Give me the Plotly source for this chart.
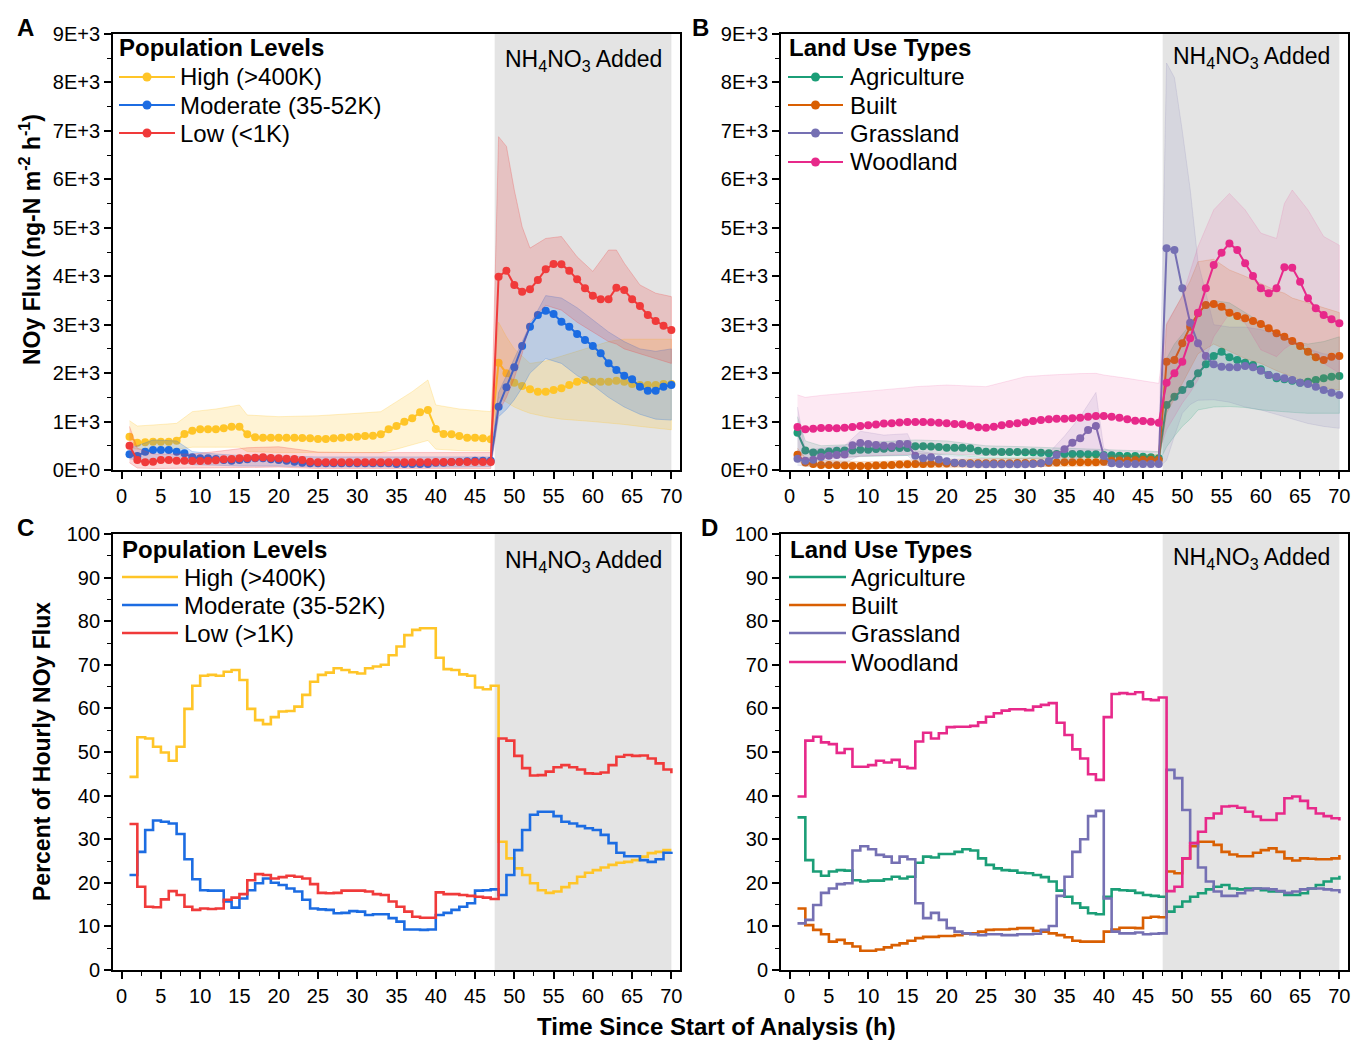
import plotly.graph_objects as go

# ---------------- data ----------------
hours = list(range(1, 71))

# Panel A: NOy flux by population level (ng-N m-2 h-1)
high_flux = [688, 564, 571, 585, 585, 585, 605, 743, 812, 839,
             839, 839, 860, 894, 894, 736, 674, 667, 667, 667,
             667, 667, 660, 654, 640, 640, 654, 667, 674, 688,
             702, 709, 736, 839, 908, 998, 1066, 1190, 1238, 846,
             743, 736, 702, 667, 667, 654, 633,
             2215, 1995, 1803, 1734, 1665, 1617, 1617, 1651, 1686, 1754,
             1823, 1858, 1823, 1823, 1823, 1844, 1823, 1775, 1754, 1754,
             1754, 1775, 1775]
moderate_flux = [323, 289, 378, 413, 413, 413, 378, 344, 261, 241,
                 241, 227, 206, 193, 206, 220, 241, 241, 220, 206,
                 193, 172, 151, 138, 138, 138, 138, 138, 138, 138,
                 138, 138, 138, 138, 124, 124, 124, 124, 124, 151,
                 151, 165, 172, 179, 193, 193, 193,
                 1307, 1706, 2119, 2559, 2958, 3199, 3289, 3220, 3062, 2958,
                 2807, 2683, 2559, 2408, 2202, 2064, 1947, 1871, 1720, 1637,
                 1637, 1720, 1754]
low_flux = [502, 206, 158, 172, 206, 206, 193, 193, 186, 186,
            193, 200, 220, 227, 241, 248, 255, 261, 248, 241,
            234, 227, 206, 172, 158, 158, 158, 158, 158, 158,
            158, 158, 158, 158, 158, 158, 158, 158, 158, 165,
            165, 165, 165, 165, 165, 165, 165,
            3990, 4114, 3818, 3681, 3729, 3922, 4142, 4252, 4245, 4114,
            3935, 3750, 3598, 3523, 3523, 3763, 3715, 3523, 3385, 3199,
            3075, 2979, 2890]

# Panel B: NOy flux by land use type
agri_flux = [769, 405, 363, 363, 384, 395, 405, 405, 419, 419,
             433, 440, 454, 454, 454, 489, 489, 485, 475, 461,
             461, 461, 447, 399, 378, 378, 372, 372, 372, 365,
             365, 358, 344, 330, 330, 330, 330, 323, 323, 310,
             303, 296, 289, 289, 275, 261, 241,
             1342, 1514, 1651, 1775, 1995, 2181, 2353, 2442, 2325, 2270,
             2215, 2167, 2078, 1961, 1892, 1871, 1844, 1803, 1823, 1858,
             1892, 1926, 1940]
built_flux = [315, 154, 126, 105, 105, 98, 91, 84, 84, 84,
              91, 98, 105, 112, 119, 126, 126, 130, 133, 135,
              137, 138, 138, 138, 138, 138, 140, 140, 142, 142,
              140, 140, 150, 155, 158, 160, 160, 160, 160, 172,
              190, 195, 198, 200, 205, 206, 206,
              2236, 2270, 2614, 2958, 3234, 3406, 3426, 3371, 3247, 3179,
              3130, 3075, 3013, 2924, 2821, 2752, 2663, 2559, 2442, 2325,
              2270, 2339, 2353]
grass_flux = [231, 189, 210, 266, 294, 308, 321, 510, 559, 538,
              517, 503, 489, 538, 538, 294, 245, 262, 215, 180,
              151, 138, 124, 117, 117, 117, 117, 117, 117, 117,
              124, 138, 186, 310, 427, 564, 654, 826, 908, 289,
              138, 124, 124, 124, 124, 124, 124,
              4575, 4541, 3750, 3041, 2614, 2353, 2181, 2133, 2119, 2119,
              2147, 2119, 2050, 1961, 1926, 1892, 1858, 1803, 1775, 1720,
              1651, 1596, 1548]
wood_flux = [888, 839, 853, 867, 867, 860, 874, 888, 909, 923,
             937, 958, 965, 979, 993, 993, 993, 985, 977, 963,
             949, 943, 915, 881, 874, 894, 922, 949, 963, 984,
             1011, 1032, 1046, 1060, 1060, 1066, 1080, 1101, 1115, 1115,
             1101, 1080, 1046, 1018, 1011, 998, 977,
             1803, 1995, 2236, 2718, 3247, 3750, 4231, 4486, 4678, 4541,
             4266, 4004, 3750, 3646, 3750, 4183, 4176, 3887, 3543, 3337,
             3199, 3110, 3027]

# Uncertainty bands (read at selected hours)
band_hours = [1, 2, 4, 7, 9, 12, 15, 16, 20, 25, 30, 33, 35, 37, 39, 40, 43, 47,
              48, 49, 50, 51, 52, 54, 56, 58, 60, 62, 63, 64, 66, 68, 70]
high_upper = [1018, 908, 929, 963, 1204, 1259, 1342, 1135, 1101, 1120, 1170, 1204, 1410, 1617, 1858, 1342, 1260, 1204,
              3050, 2750, 2500, 2350, 2200, 2250, 2350, 2450, 2550, 2650, 2680, 2700, 2700, 2700, 2700]
high_lower = [450, 430, 430, 430, 470, 470, 470, 380, 360, 360, 360, 360, 430, 520, 610, 430, 400, 390,
              1500, 1400, 1300, 1230, 1170, 1100, 1050, 1020, 1000, 970, 950, 940, 900, 860, 830]
mod_upper = [450, 500, 620, 600, 380, 330, 300, 300, 290, 270, 270, 270, 270, 270, 270, 270, 270, 270,
             1600, 1950, 2300, 2650, 3000, 3600, 3550, 3350, 3100, 2850, 2750, 2650, 2500, 2450, 2500]
mod_lower = [230, 210, 210, 200, 110, 100, 80, 80, 80, 60, 60, 60, 60, 60, 60, 60, 60, 70,
             1100, 1250, 1450, 1700, 2000, 2300, 2200, 1950, 1750, 1500, 1400, 1300, 1150, 1050, 1030]
low_upper = [900, 450, 330, 330, 330, 380, 430, 460, 480, 370, 360, 360, 360, 360, 360, 360, 360, 360,
             6880, 6680, 5780, 5020, 4580, 4780, 4820, 4400, 4100, 4540, 4540, 4270, 3820, 3650, 3580]
low_lower = [150, 40, 30, 30, 30, 40, 50, 50, 60, 30, 30, 30, 30, 30, 30, 30, 30, 30,
             1200, 1500, 1900, 2400, 3050, 3400, 3300, 3050, 2850, 2650, 2600, 2500, 2400, 2300, 2200]

agri_upper = [1100, 600, 500, 520, 560, 580, 600, 620, 600, 500, 480, 470, 450, 440, 430, 420, 400, 380,
              2300, 2600, 2800, 3000, 3200, 3500, 3450, 3250, 3050, 2850, 2750, 2650, 2600, 2650, 2750]
agri_lower = [400, 250, 250, 270, 280, 290, 300, 330, 320, 250, 240, 230, 210, 210, 200, 190, 180, 150,
              480, 700, 900, 1050, 1240, 1300, 1310, 1290, 1240, 1210, 1200, 1190, 1170, 1170, 1170]
built_upper = [450, 250, 200, 180, 170, 180, 200, 210, 220, 230, 240, 250, 260, 270, 270, 290, 300, 320,
               3000, 3300, 3600, 3900, 4300, 4350, 4130, 4000, 3850, 3700, 3650, 3550, 3450, 3350, 3250]
built_lower = [200, 80, 50, 40, 30, 30, 40, 50, 60, 60, 70, 70, 80, 80, 80, 90, 100, 100,
               1170, 1500, 1800, 2100, 2400, 2600, 2450, 2300, 2200, 2050, 2000, 1930, 1800, 1700, 1650]
grass_upper = [1300, 400, 450, 500, 800, 720, 750, 400, 300, 230, 230, 350, 700, 1100, 1600, 450, 250, 250,
               8400, 8100, 7000, 5800, 4300, 3000, 2950, 2950, 2900, 2800, 2750, 2650, 2500, 2400, 2350]
grass_lower = [100, 80, 100, 150, 300, 300, 300, 150, 80, 50, 50, 80, 150, 250, 350, 100, 50, 50,
               200, 700, 1170, 1350, 1440, 1450, 1400, 1300, 1240, 1150, 1100, 1050, 960, 900, 860]
wood_upper = [1550, 1500, 1540, 1580, 1620, 1660, 1700, 1720, 1754, 1720, 1926, 1960, 1981, 1990, 1995, 1961, 1892, 1789,
              3030, 3300, 3580, 4100, 4610, 5370, 5710, 5370, 4890, 4780, 5500, 5780, 5370, 4820, 4640]
wood_lower = [250, 220, 230, 250, 280, 300, 320, 330, 330, 300, 330, 360, 380, 400, 400, 400, 380, 350,
              830, 1100, 1380, 1600, 1860, 2750, 3230, 3030, 2480, 2340, 2500, 2610, 2550, 2200, 2000]

# Panel C: percent of hourly NOy flux by population level
high_pct = [44.3, 53.4, 53.1, 51.2, 49.9, 48.0, 51.2, 59.9, 65.2, 67.5,
            67.7, 67.5, 68.4, 68.8, 66.5, 59.9, 57.3, 56.4, 58.0, 59.3,
            59.4, 60.4, 63.1, 66.1, 67.7, 68.2, 69.2, 68.8, 68.3, 68.0,
            69.2, 69.6, 70.0, 72.2, 74.2, 76.8, 78.0, 78.4, 78.4, 71.6,
            69.0, 68.8, 67.8, 67.5, 64.8, 64.4, 65.2,
            29.4, 25.6, 23.3, 21.8, 19.9, 18.3, 17.7, 18.0, 19.0, 19.9,
            21.4, 22.3, 22.9, 23.5, 24.1, 24.6, 24.8, 25.2, 26.0, 26.8,
            27.1, 27.5, 27.5]
mod_pct = [21.8, 27.1, 32.1, 34.3, 34.0, 33.6, 31.2, 25.4, 20.8, 18.3,
           18.2, 18.2, 15.7, 14.3, 16.4, 18.3, 19.9, 21.0, 20.0, 19.5,
           18.7, 18.0, 16.1, 14.1, 13.9, 13.8, 13.0, 13.1, 13.5, 13.4,
           12.6, 12.8, 12.8, 11.9, 11.1, 9.3, 9.3, 9.2, 9.3, 12.6,
           13.1, 13.8, 14.5, 15.3, 18.2, 18.3, 18.5,
           17.2, 21.8, 27.5, 32.1, 35.6, 36.3, 36.3, 35.3, 34.0, 33.6,
           33.0, 32.5, 32.1, 31.0, 29.1, 26.9, 26.1, 26.1, 25.2, 24.8,
           25.4, 26.9, 27.1]
low_pct = [33.5, 19.1, 14.5, 14.4, 16.2, 18.1, 17.2, 14.5, 13.8, 14.1,
           14.0, 14.1, 16.1, 16.6, 17.4, 20.6, 22.0, 21.8, 21.0, 21.3,
           21.6, 21.4, 21.0, 19.7, 17.7, 17.6, 17.7, 18.2, 18.2, 18.2,
           18.0, 17.4, 17.2, 15.7, 14.5, 13.4, 12.2, 12.0, 12.0, 17.8,
           17.4, 17.4, 17.2, 17.0, 16.8, 16.6, 16.3,
           53.1, 52.6, 49.1, 46.3, 44.6, 44.7, 45.5, 46.5, 47.0, 46.5,
           46.0, 45.1, 45.0, 45.3, 47.0, 48.9, 49.3, 49.1, 49.2, 48.5,
           47.4, 46.0, 45.1]

# Panel D: percent of hourly NOy flux by land use type
agri_pct = [35.0, 25.2, 22.6, 21.6, 22.6, 22.9, 22.8, 20.6, 20.3, 20.5,
            20.5, 20.8, 21.4, 21.0, 21.4, 24.6, 26.0, 25.8, 26.6, 26.6,
            27.1, 27.7, 27.4, 25.6, 24.1, 23.3, 22.9, 22.8, 22.3, 22.2,
            21.8, 21.3, 20.3, 18.2, 16.8, 15.3, 14.3, 13.0, 12.8, 16.8,
            18.5, 18.3, 18.2, 17.7, 17.2, 17.0, 16.8,
            13.4, 14.5, 15.7, 16.8, 17.6, 18.5, 19.1, 19.5, 18.7, 18.5,
            18.7, 18.7, 18.3, 18.0, 18.0, 17.2, 17.2, 17.6, 18.7, 19.5,
            20.3, 21.0, 21.6]
built_pct = [14.1, 10.3, 9.2, 8.2, 6.5, 6.9, 6.1, 5.4, 4.4, 4.4,
             4.7, 5.2, 5.7, 6.1, 6.7, 7.3, 7.6, 7.6, 7.8, 7.8,
             8.0, 8.3, 8.4, 8.8, 9.2, 9.3, 9.3, 9.4, 9.6, 9.6,
             9.0, 8.8, 8.4, 8.0, 7.5, 6.7, 6.5, 6.5, 6.5, 8.8,
             9.3, 9.7, 9.7, 9.6, 12.0, 12.2, 12.1,
             22.6, 22.2, 25.6, 28.4, 29.4, 29.4, 28.7, 27.1, 26.5, 26.1,
             26.1, 26.9, 27.5, 27.9, 27.1, 25.6, 25.1, 25.6, 25.5, 25.4,
             25.4, 25.6, 26.4]
grass_pct = [10.7, 11.5, 14.9, 17.7, 18.7, 19.7, 19.9, 27.4, 28.4, 27.7,
             26.4, 26.0, 24.6, 26.0, 25.4, 15.3, 11.9, 13.1, 11.5, 9.6,
             8.8, 8.4, 8.2, 8.0, 8.2, 8.2, 8.0, 8.0, 8.2, 8.2,
             8.3, 9.2, 10.1, 17.0, 21.4, 27.1, 30.0, 35.3, 36.5, 16.4,
             8.8, 8.4, 8.4, 8.6, 8.2, 8.3, 8.4,
             45.9, 44.0, 36.7, 29.1, 23.5, 20.3, 18.0, 17.0, 17.0, 17.6,
             18.3, 18.7, 18.7, 18.5, 18.1, 17.7, 18.0, 18.5, 18.7, 18.7,
             18.5, 18.3, 17.6]
wood_pct = [39.8, 52.6, 53.5, 52.2, 51.8, 49.8, 50.7, 46.6, 46.6, 47.0,
            48.0, 47.6, 48.2, 46.6, 46.3, 52.4, 54.4, 53.1, 54.3, 55.7,
            55.8, 55.8, 56.0, 56.8, 58.1, 58.9, 59.5, 59.8, 59.8, 59.6,
            60.4, 60.8, 61.2, 56.7, 53.9, 50.6, 48.5, 44.9, 43.6, 58.0,
            63.3, 63.5, 63.3, 63.7, 62.1, 61.9, 62.5,
            18.1, 19.1, 25.6, 29.1, 31.7, 34.8, 35.9, 37.5, 37.6, 37.2,
            36.3, 35.2, 34.4, 34.4, 35.9, 39.4, 39.8, 38.8, 37.1, 35.9,
            35.3, 34.8, 34.3]

pop_names = ["High (>400K)", "Moderate (35-52K)", "Low (<1K)"]
pop_names_pct = ["High (>400K)", "Moderate (35-52K)", "Low (>1K)"]
land_names = ["Agriculture", "Built", "Grassland", "Woodland"]
flux_ticks = [0, 1000, 2000, 3000, 4000, 5000, 6000, 7000, 8000, 9000]
flux_ticktext = ["0E+0", "1E+3", "2E+3", "3E+3", "4E+3", "5E+3", "6E+3", "7E+3", "8E+3", "9E+3"]
pct_ticks = [0, 10, 20, 30, 40, 50, 60, 70, 80, 90, 100]
hour_ticks = [0, 5, 10, 15, 20, 25, 30, 35, 40, 45, 50, 55, 60, 65, 70]
added_start, added_end = 47.5, 70

for arr in [high_flux, moderate_flux, low_flux, agri_flux, built_flux, grass_flux, wood_flux,
            high_pct, mod_pct, low_pct, agri_pct, built_pct, grass_pct, wood_pct]:
    assert len(arr) == 70, len(arr)
for arr in [high_upper, high_lower, mod_upper, mod_lower, low_upper, low_lower, agri_upper, agri_lower,
            built_upper, built_lower, grass_upper, grass_lower, wood_upper, wood_lower]:
    assert len(arr) == len(band_hours), len(arr)

# ---------------- styling ----------------
FONT = "Liberation Sans, Arial, sans-serif"
W, H = 1352, 1042
pop_rgb = ["255,197,40", "28,108,226", "240,58,58"]
land_rgb = ["27,158,119", "217,95,2", "117,112,179", "231,41,138"]

fig = go.Figure()


def band(upper, lower, rgb, alpha, xa, ya):
    fig.add_trace(go.Scatter(
        x=band_hours + band_hours[::-1], y=upper + lower[::-1],
        fill="toself", fillcolor=f"rgba({rgb},{alpha})",
        line=dict(color=f"rgba({rgb},{min(alpha * 1.6, 1)})", width=0.8),
        mode="lines", hoverinfo="skip", showlegend=False, xaxis=xa, yaxis=ya))


def dotted_line(y, name, rgb, xa, ya):
    fig.add_trace(go.Scatter(
        x=hours, y=y, name=name, mode="lines+markers",
        line=dict(color=f"rgb({rgb})", width=2),
        marker=dict(color=f"rgb({rgb})", size=8),
        xaxis=xa, yaxis=ya, showlegend=False))


def step_line(y, name, rgb, xa, ya):
    fig.add_trace(go.Scatter(
        x=hours, y=y, name=name, mode="lines", line_shape="hv",
        line=dict(color=f"rgb({rgb})", width=2.6),
        xaxis=xa, yaxis=ya, showlegend=False))


# Panel A
for vals, up, lo, nm, rgb in zip([high_flux, moderate_flux, low_flux],
                                 [high_upper, mod_upper, low_upper],
                                 [high_lower, mod_lower, low_lower],
                                 pop_names, pop_rgb):
    band(up, lo, rgb, 0.2, "x", "y")
    dotted_line(vals, nm, rgb, "x", "y")

# Panel B
for vals, up, lo, nm, rgb, al in zip([agri_flux, built_flux, grass_flux, wood_flux],
                                     [agri_upper, built_upper, grass_upper, wood_upper],
                                     [agri_lower, built_lower, grass_lower, wood_lower],
                                     land_names, land_rgb, [0.15, 0.15, 0.12, 0.1]):
    band(up, lo, rgb, al, "x2", "y2")
    dotted_line(vals, nm, rgb, "x2", "y2")

# Panel C
for vals, nm, rgb in zip([high_pct, mod_pct, low_pct], pop_names_pct, pop_rgb):
    step_line(vals, nm, rgb, "x3", "y3")

# Panel D
for vals, nm, rgb in zip([agri_pct, built_pct, grass_pct, wood_pct], land_names, land_rgb):
    step_line(vals, nm, rgb, "x4", "y4")

xl, xr = 113 / W, 680 / W
xl2, xr2 = 781 / W, 1348 / W
yt_b, yt_t = 1 - 470 / H, 1 - 34 / H
yb_b, yb_t = 1 - 970 / H, 1 - 534 / H

TICKFONT = dict(size=20, color="black", family=FONT)
common_x = dict(range=[-1.1, 71.1], tickvals=hour_ticks, ticks="outside", ticklen=7, tickwidth=1.6,
                tickcolor="black", showline=True, linecolor="black", linewidth=1.8, mirror=True,
                showgrid=False, zeroline=False, tickfont=TICKFONT, automargin=False,
                minor=dict(dtick=2.5, tick0=0, ticks="outside", ticklen=4, tickwidth=1.4,
                           tickcolor="black", showgrid=False))
common_y = dict(ticks="outside", ticklen=7, tickwidth=1.6, tickcolor="black", showline=True,
                linecolor="black", linewidth=1.8, mirror=True, showgrid=False, zeroline=False,
                tickfont=TICKFONT, automargin=False)

flux_y = dict(common_y, range=[0, 9000], tickvals=flux_ticks, ticktext=flux_ticktext,
              minor=dict(dtick=500, tick0=0, ticks="outside", ticklen=4, tickwidth=1.4,
                         tickcolor="black", showgrid=False))
pct_y = dict(common_y, range=[0, 100], tickvals=pct_ticks,
             minor=dict(dtick=5, tick0=0, ticks="outside", ticklen=4, tickwidth=1.4,
                        tickcolor="black", showgrid=False))

fig.update_layout(
    width=W, height=H, margin=dict(l=0, r=0, t=0, b=0, autoexpand=False),
    paper_bgcolor="white", plot_bgcolor="white", showlegend=False,
    font=dict(family=FONT, color="black"),
    xaxis=dict(common_x, domain=[xl, xr], anchor="y"),
    yaxis=dict(flux_y, domain=[yt_b, yt_t], anchor="x"),
    xaxis2=dict(common_x, domain=[xl2, xr2], anchor="y2"),
    yaxis2=dict(flux_y, domain=[yt_b, yt_t], anchor="x2"),
    xaxis3=dict(common_x, domain=[xl, xr], anchor="y3"),
    yaxis3=dict(pct_y, domain=[yb_b, yb_t], anchor="x3"),
    xaxis4=dict(common_x, domain=[xl2, xr2], anchor="y4"),
    yaxis4=dict(pct_y, domain=[yb_b, yb_t], anchor="x4"),
)

# NH4NO3 shaded period
for xa, ya, ypx in [("x", "y", 60), ("x2", "y2", 58), ("x3", "y3", 561), ("x4", "y4", 558)]:
    fig.add_shape(type="rect", xref=xa, yref=f"{ya} domain", x0=added_start, x1=added_end,
                  y0=0, y1=1, fillcolor="#E4E4E4", line=dict(width=0), layer="below")
    fig.add_annotation(xref=xa, yref="paper", x=58.8, y=1 - ypx / H, showarrow=False,
                       text="NH<sub>4</sub>NO<sub>3</sub> Added",
                       font=dict(size=23, family=FONT, color="black"),
                       xanchor="center", yanchor="middle")


# Hand-placed legend blocks (legend titles and entries are real text)
def legend_block(title, tx, ty, names, rgbs, line_x0, line_x1, text_x, entry_ys, with_markers):
    fig.add_annotation(xref="paper", yref="paper", x=tx / W, y=1 - ty / H, showarrow=False,
                       text=f"<b>{title}</b>", font=dict(size=24, family=FONT, color="black"),
                       xanchor="left", yanchor="middle")
    for nm, rgb, ey in zip(names, rgbs, entry_ys):
        yy = 1 - ey / H
        fig.add_shape(type="line", xref="paper", yref="paper", x0=line_x0 / W, x1=line_x1 / W,
                      y0=yy, y1=yy, line=dict(color=f"rgb({rgb})", width=2.6 if not with_markers else 2))
        if with_markers:
            xm = (line_x0 + line_x1) / 2
            r = 4.5
            fig.add_shape(type="circle", xref="paper", yref="paper",
                          x0=(xm - r) / W, x1=(xm + r) / W, y0=1 - (ey + r) / H, y1=1 - (ey - r) / H,
                          fillcolor=f"rgb({rgb})", line=dict(width=0))
        fig.add_annotation(xref="paper", yref="paper", x=text_x / W, y=yy, showarrow=False,
                           text=nm, font=dict(size=24, family=FONT, color="black"),
                           xanchor="left", yanchor="middle")


legend_block("Population Levels", 117, 48, pop_names, pop_rgb, 119, 175, 178, [77, 105, 133], True)
legend_block("Land Use Types", 787, 48, land_names, land_rgb, 788, 843, 848, [77, 105, 133, 162], True)
legend_block("Population Levels", 120, 549, pop_names_pct, pop_rgb, 122, 178, 182, [577, 605, 633], False)
legend_block("Land Use Types", 788, 549, land_names, land_rgb, 789, 846, 849, [577, 605, 633, 662], False)

# Panel letters
for letter, px, py in [("A", 25, 27), ("B", 700, 27), ("C", 25, 527), ("D", 709, 527)]:
    fig.add_annotation(xref="paper", yref="paper", x=px / W, y=1 - py / H, showarrow=False,
                       text=f"<b>{letter}</b>", font=dict(size=24, family=FONT, color="black"),
                       xanchor="center", yanchor="middle")

# Axis titles
fig.add_annotation(xref="paper", yref="paper", x=30 / W, y=1 - 240 / H, showarrow=False,
                   textangle=-90, text="<b>NOy Flux (ng-N m<sup>-2</sup> h<sup>-1</sup>)</b>",
                   font=dict(size=23, family=FONT, color="black"), xanchor="center", yanchor="middle")
fig.add_annotation(xref="paper", yref="paper", x=42 / W, y=1 - 752 / H, showarrow=False,
                   textangle=-90, text="<b>Percent of Hourly NOy Flux</b>",
                   font=dict(size=23, family=FONT, color="black"), xanchor="center", yanchor="middle")
fig.add_annotation(xref="paper", yref="paper", x=716 / W, y=1 - 1026 / H, showarrow=False,
                   text="<b>Time Since Start of Analysis (h)</b>",
                   font=dict(size=24, family=FONT, color="black"), xanchor="center", yanchor="middle")

fig.write_html("out.html")
